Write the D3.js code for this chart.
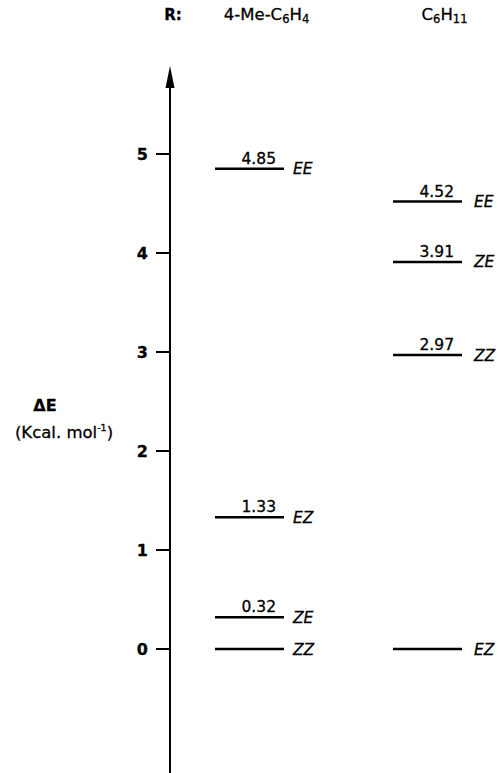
<!DOCTYPE html>
<html>
<head>
<meta charset="utf-8">
<script src="https://cdn.jsdelivr.net/npm/d3@7"></script>
<style>
  html, body { margin: 0; padding: 0; background: #fff; }
  svg { display: block; font-family: "DejaVu Sans", "Liberation Sans", Arial, sans-serif; }
  svg text { stroke: #000; stroke-width: 0.3px; }
</style>
</head>
<body>
<svg id="chart" width="501" height="773"></svg>
<script>
// ---- data ----
const categories = ["4-Me-C6H4", "C6H11"];
const aryl_energies = [4.85, 1.33, 0.32, 0];
const aryl_isomers = ["EE", "EZ", "ZE", "ZZ"];
const cyclohexyl_energies = [4.52, 3.91, 2.97, 0];
const cyclohexyl_isomers = ["EE", "ZE", "ZZ", "EZ"];
const yTicks = [0, 1, 2, 3, 4, 5];

const seriesEnergies = [aryl_energies, cyclohexyl_energies];
const seriesIsomers = [aryl_isomers, cyclohexyl_isomers];

const svg = d3.select("#chart");

// ---- scales ----
const y = d3.scaleLinear().domain([0, 5]).range([649, 154]);
const x = d3.scalePoint().domain(categories).range([249.5, 427.5]);
const axisX = 170;
const levelW = 69;

// ---- axis ----
const axisTop = 86, tipY = 66;
svg.append("line")
  .attr("x1", axisX).attr("x2", axisX)
  .attr("y1", axisTop).attr("y2", 773)
  .attr("stroke", "#000").attr("stroke-width", 2);
svg.append("path")
  .attr("d", `M${axisX},${tipY} L${axisX - 4.5},${axisTop + 2} L${axisX + 4.5},${axisTop + 2} Z`)
  .attr("fill", "#000");

const ticks = svg.append("g");
ticks.selectAll("line").data(yTicks).join("line")
  .attr("x1", axisX - 14).attr("x2", axisX)
  .attr("y1", d => y(d)).attr("y2", d => y(d))
  .attr("stroke", "#000").attr("stroke-width", 2);
ticks.selectAll("text").data(yTicks).join("text")
  .attr("x", axisX - 22).attr("y", d => y(d))
  .attr("dy", "0.36em")
  .attr("text-anchor", "end")
  .attr("font-weight", "bold").attr("font-size", 16)
  .text(d => d);

// ---- axis title ----
svg.append("text")
  .attr("x", 45).attr("y", 411)
  .attr("text-anchor", "middle")
  .attr("font-weight", "bold").attr("font-size", 16)
  .text("\u0394E");
const unit = svg.append("text")
  .attr("x", 64).attr("y", 438)
  .attr("text-anchor", "middle")
  .attr("font-size", 16.5);
unit.append("tspan").text("(Kcal. mol");
unit.append("tspan").attr("font-size", 9.5).attr("dy", -7).text("-1");
unit.append("tspan").attr("dy", 7).text(")");

// ---- header ----
svg.append("text")
  .attr("x", 173).attr("y", 20)
  .attr("text-anchor", "middle")
  .attr("font-weight", "bold").attr("font-size", 15)
  .text("R:");

function formula(sel, name) {
  const parts = name.match(/(\d+-)|([A-Za-z-]+)|(\d+)/g);
  let lowered = false;
  parts.forEach((p, i) => {
    const isSub = /^\d+$/.test(p) && i > 0;
    const t = sel.append("tspan").text(p);
    if (isSub && !lowered) { t.attr("font-size", 11.5).attr("dy", 3); lowered = true; }
    else if (!isSub && lowered) { t.attr("dy", -3); lowered = false; }
    else if (isSub) t.attr("font-size", 11.5);
  });
}
svg.append("g").selectAll("text").data(categories).join("text")
  .attr("x", d => x(d) + 17).attr("y", 20)
  .attr("text-anchor", "middle")
  .attr("font-size", 16.5)
  .each(function(d) { formula(d3.select(this), d); });

// ---- levels ----
categories.forEach((cat, ci) => {
  const g = svg.append("g");
  const rows = seriesEnergies[ci].map((e, i) => ({ e, iso: seriesIsomers[ci][i] }));
  const x0 = x(cat) - levelW / 2, x1 = x(cat) + levelW / 2;
  g.selectAll("line").data(rows).join("line")
    .attr("x1", x0).attr("x2", x1)
    .attr("y1", d => y(d.e)).attr("y2", d => y(d.e))
    .attr("stroke", "#000").attr("stroke-width", 2.5);
  g.selectAll("text.val").data(rows.filter(d => d.e > 0)).join("text")
    .attr("class", "val")
    .attr("x", x1 - 8).attr("y", d => y(d.e) - 5)
    .attr("text-anchor", "end")
    .attr("font-size", 15.5)
    .text(d => d3.format(".2f")(d.e));
  g.selectAll("text.iso").data(rows).join("text")
    .attr("class", "iso")
    .attr("x", x1 + 9 + ci * 3).attr("y", d => y(d.e))
    .attr("dy", "0.36em")
    .attr("font-style", "italic")
    .attr("font-size", 15.5)
    .text(d => d.iso);
});
</script>
</body>
</html>
